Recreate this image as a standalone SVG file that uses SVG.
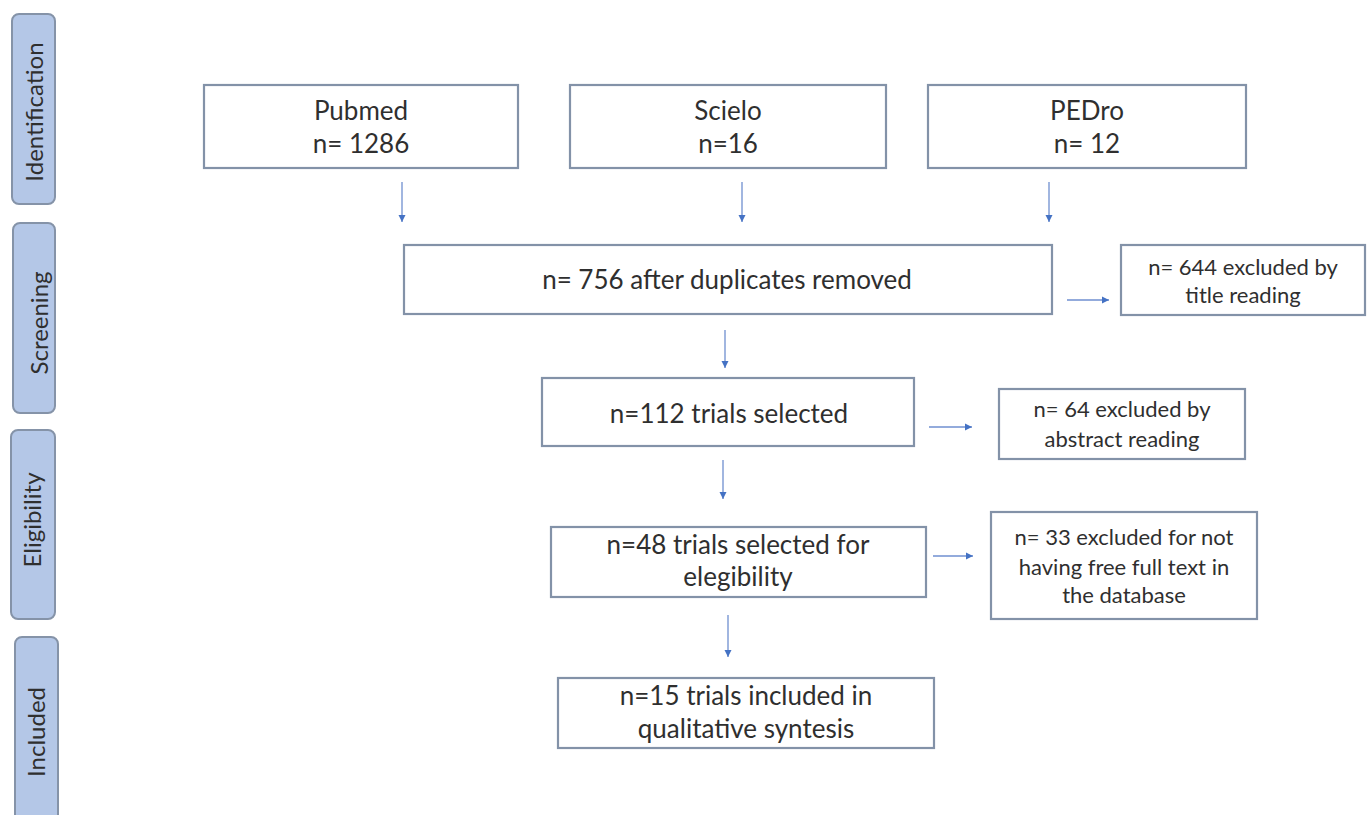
<svg xmlns="http://www.w3.org/2000/svg" width="1371" height="815" viewBox="0 0 1371 815">
<defs>
<style>
.box{fill:#ffffff;stroke:#8392a8;stroke-width:2.2}
.side{fill:#b4c7e7;stroke:#8593a8;stroke-width:2}
.t{font-family:Lato,"Liberation Sans",sans-serif;font-size:26px;fill:#2f2f2f;text-anchor:middle}
.s{font-family:Lato,"Liberation Sans",sans-serif;font-size:22px;fill:#2f2f2f;text-anchor:middle}
.lbl{font-family:Lato,"Liberation Sans",sans-serif;font-size:24px;fill:#2f2f2f;text-anchor:middle}
.c{stroke:#6f8fd0;stroke-width:1.3;fill:none;marker-end:url(#ah)}
</style>
<marker id="ah" markerUnits="userSpaceOnUse" markerWidth="8" markerHeight="8" refX="7" refY="4" orient="auto">
<path d="M0,0.5 L7,4 L0,7.5 Z" fill="#4472c4"/>
</marker>
</defs>
<rect width="1371" height="815" fill="#ffffff"/>

<g id="phase-identification">
<rect class="side" x="12" y="14" width="43" height="190" rx="7"/>
<text class="lbl" transform="translate(43,112) rotate(-90)">Identification</text>
</g>
<g id="phase-screening">
<rect class="side" x="13" y="223" width="42" height="190" rx="7"/>
<text class="lbl" transform="translate(48,323) rotate(-90)">Screening</text>
</g>
<g id="phase-eligibility">
<rect class="side" x="11" y="430" width="44" height="189" rx="7"/>
<text class="lbl" transform="translate(41,520) rotate(-90)">Eligibility</text>
</g>
<g id="phase-included">
<rect class="side" x="15" y="637" width="43" height="200" rx="7"/>
<text class="lbl" transform="translate(45,732) rotate(-90)">Included</text>
</g>

<g id="connectors">
<line class="c" x1="402" y1="182" x2="402" y2="222"/>
<line class="c" x1="742" y1="182" x2="742" y2="222"/>
<line class="c" x1="1049" y1="182" x2="1049" y2="222"/>
<line class="c" x1="1067" y1="300" x2="1109" y2="300"/>
<line class="c" x1="725" y1="330" x2="725" y2="368"/>
<line class="c" x1="929" y1="427" x2="972" y2="427"/>
<line class="c" x1="723" y1="460" x2="723" y2="499"/>
<line class="c" x1="933" y1="556" x2="973" y2="556"/>
<line class="c" x1="728" y1="615" x2="728" y2="657"/>
</g>

<g id="pubmed">
<rect class="box" x="204" y="85" width="314" height="83"/>
<text class="t" x="361" y="120">Pubmed</text>
<text class="t" x="361" y="153">n= 1286</text>
</g>
<g id="scielo">
<rect class="box" x="570" y="85" width="316" height="83"/>
<text class="t" x="728" y="120">Scielo</text>
<text class="t" x="728" y="153">n=16</text>
</g>
<g id="pedro">
<rect class="box" x="928" y="85" width="318" height="83"/>
<text class="t" x="1087" y="120">PEDro</text>
<text class="t" x="1087" y="153">n= 12</text>
</g>
<g id="duplicates">
<rect class="box" x="404" y="245" width="648" height="69"/>
<text class="t" x="727" y="289">n= 756 after duplicates removed</text>
</g>
<g id="excluded-title">
<rect class="box" x="1121" y="245" width="244" height="70"/>
<text class="s" x="1243" y="275">n= 644 excluded by</text>
<text class="s" x="1243" y="303">title reading</text>
</g>
<g id="trials-112">
<rect class="box" x="542" y="378" width="372" height="68"/>
<text class="t" x="729" y="423">n=112 trials selected</text>
</g>
<g id="excluded-abstract">
<rect class="box" x="999" y="389" width="246" height="70"/>
<text class="s" x="1122" y="417">n= 64 excluded by</text>
<text class="s" x="1122" y="447">abstract reading</text>
</g>
<g id="trials-48">
<rect class="box" x="551" y="527" width="375" height="70"/>
<text class="t" x="738" y="554">n=48 trials selected for</text>
<text class="t" x="738" y="586">elegibility</text>
</g>
<g id="excluded-fulltext">
<rect class="box" x="991" y="512" width="266" height="107"/>
<text class="s" x="1124" y="545">n= 33 excluded for not</text>
<text class="s" x="1124" y="575">having free full text in</text>
<text class="s" x="1124" y="603">the database</text>
</g>
<g id="included-15">
<rect class="box" x="558" y="678" width="376" height="70"/>
<text class="t" x="746" y="705">n=15 trials included in</text>
<text class="t" x="746" y="738">qualitative syntesis</text>
</g>
</svg>
